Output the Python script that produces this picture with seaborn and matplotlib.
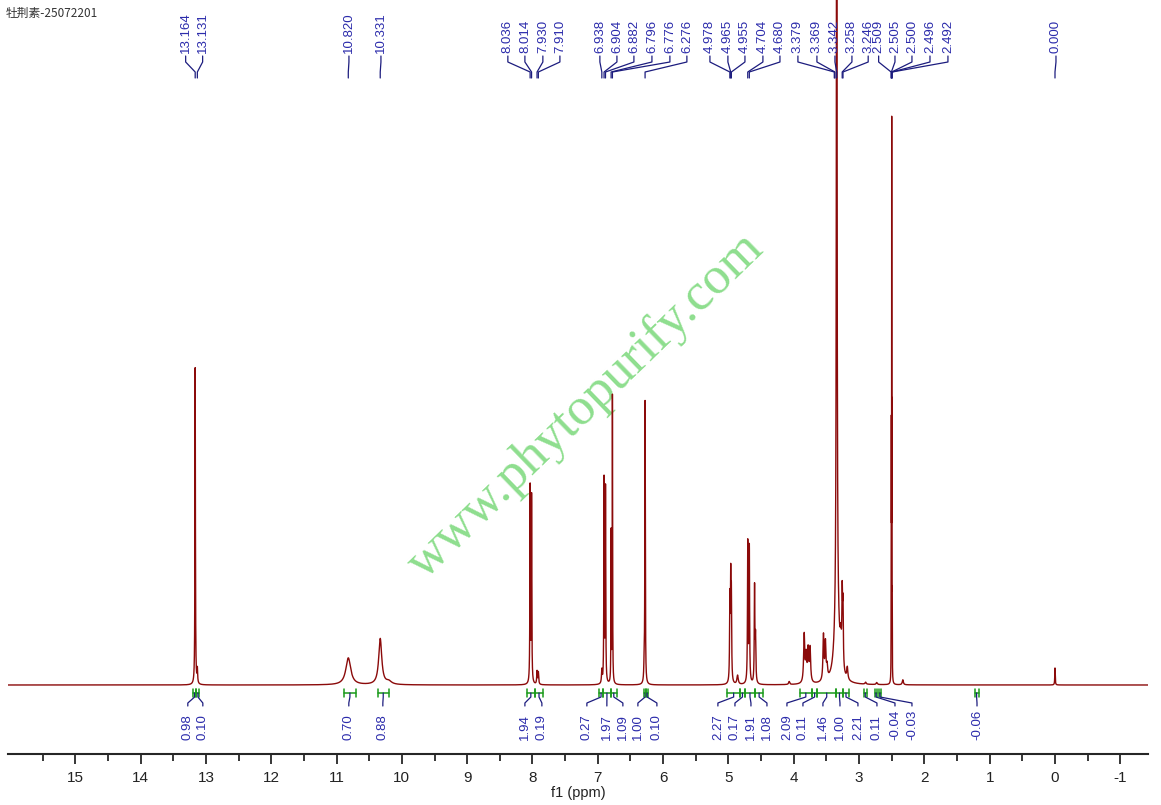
import numpy as np
import matplotlib
matplotlib.use("Agg")
import matplotlib.pyplot as plt
import seaborn as sns

sns.set_theme(style="ticks")
plt.rcParams['font.family'] = ['Liberation Sans', 'DejaVu Sans']
plt.rcParams['axes.unicode_minus'] = False

sample_name = "牡荆素-25072201"
watermark = "www.phytopurify.com"

# peaks: position (ppm), height above baseline, half width (ppm)
peak_ppm = [13.164, 13.131, 10.820, 10.331, 10.20,
            8.036, 8.014, 7.930, 7.910,
            6.938, 6.904, 6.882, 6.796, 6.776, 6.290, 6.276,
            4.978, 4.965, 4.955, 4.860, 4.704, 4.680, 4.600, 4.585, 4.07,
            3.840, 3.810, 3.780, 3.750, 3.545, 3.515, 3.490,
            3.342, 3.340, 3.280, 3.258, 3.246, 3.180, 2.900, 2.730,
            2.509, 2.505, 2.500, 2.496, 2.492, 2.330, 0.000]
peak_height = [317, 14, 27, 46, 3,
               196, 186, 13, 12,
               13, 203, 194, 150, 287, 16, 282,
               80, 95, 80, 9, 140, 135, 95, 45, 3,
               48, 26, 32, 34, 45, 36, 12,
               950, 70, 25, 68, 60, 12, 2, 2,
               60, 225, 530, 225, 60, 5, 17]
peak_width = [0.004, 0.005, 0.045, 0.028, 0.05,
              0.004, 0.004, 0.006, 0.006,
              0.006, 0.004, 0.004, 0.003, 0.003, 0.006, 0.004,
              0.005, 0.005, 0.005, 0.012, 0.005, 0.005, 0.005, 0.006, 0.01,
              0.010, 0.010, 0.010, 0.010, 0.009, 0.009, 0.010,
              0.006, 0.04, 0.012, 0.006, 0.006, 0.01, 0.01, 0.01,
              0.0013, 0.0013, 0.0013, 0.0013, 0.0013, 0.01, 0.004]

# picked peak labels
pick_ppm = [13.164, 13.131, 10.820, 10.331, 8.036, 8.014, 7.930, 7.910,
            6.938, 6.904, 6.882, 6.796, 6.776, 6.276,
            4.978, 4.965, 4.955, 4.704, 4.680, 3.379, 3.369, 3.342, 3.258, 3.246,
            2.509, 2.505, 2.500, 2.496, 2.492, 0.000]

# integrals: start, end (ppm) and value
int_start = [13.20, 13.145, 10.89, 10.37, 8.09, 7.96, 6.98, 6.92, 6.80, 6.29, 6.26,
             5.02, 4.82, 4.75, 4.59, 3.91, 3.72, 3.64, 3.35, 3.25, 2.93, 2.76, 2.70, 1.23]
int_end = [13.145, 13.10, 10.70, 10.20, 7.96, 7.84, 6.92, 6.80, 6.71, 6.26, 6.23,
           4.82, 4.75, 4.59, 4.47, 3.72, 3.64, 3.35, 3.25, 3.15, 2.88, 2.72, 2.66, 1.17]
int_value = ["0.98", "0.10", "0.70", "0.88", "1.94", "0.19", "0.27", "1.97", "1.09", "1.00", "0.10",
             "2.27", "0.17", "1.91", "1.08", "2.09", "0.11", "1.46", "1.00", "2.21", "0.11", "-0.04", "-0.03",
             "-0.06"]

# layout: where the labels sit after spreading (ppm)
pick_slot = [13.31, 13.05, 10.81, 10.32, 8.377, 8.116, 7.841, 7.58,
             6.968, 6.707, 6.447, 6.171, 5.896, 5.636,
             5.283, 5.008, 4.747, 4.472, 4.211, 3.936, 3.645, 3.369, 3.109, 2.86,
             2.70, 2.450, 2.190, 1.914, 1.639, -0.015]
int_slot = [13.277, 13.047, 10.812, 10.291, 8.116, 7.856, 7.167, 6.861, 6.616, 6.386, 6.095,
            5.161, 4.900, 4.655, 4.410, 4.104, 3.859, 3.553, 3.292, 3.017, 2.726, 2.450, 2.190, 1.194]

# build spectrum from the peak list
ppm = np.linspace(16.2, -1.6, 80000)
ppm = np.unique(np.concatenate([ppm, peak_ppm]))[::-1]
spec = np.zeros_like(ppm)
for p, h, w in zip(peak_ppm, peak_height, peak_width):
    spec += h / (1 + ((ppm - p) / w) ** 2)

fig = plt.figure(figsize=(11.61, 8.05), dpi=100)
ax = fig.add_axes([8 / 1161, 51 / 805, 1140 / 1161, 754 / 805])

sns.lineplot(x=ppm, y=spec, ax=ax, color="#8b0a0a", lw=1.0, estimator=None, sort=False)

# axis styling
ax.set_xticks(np.arange(-1, 16, 1))
ax.set_xticks(np.arange(-1, 16, 0.5), minor=True)
ax.set_xlim(16.03, -1.424)
ax.set_ylim(-69, 685)
ax.tick_params(axis="x", which="major", direction="out", length=7, width=1.3,
               labelsize=11, labelcolor="#222222", pad=5)
ax.tick_params(axis="x", which="minor", direction="out", length=5, width=1.3)
ax.set_yticks([])
for side in ["left", "top", "right"]:
    ax.spines[side].set_visible(False)
ax.spines["bottom"].set_linewidth(1.5)
ax.set_xlabel("f1 (ppm)", fontsize=10.5, color="#222222", labelpad=1)
ax.set_ylabel("")

# watermark
ax.text(0.507, 0.462, watermark, transform=ax.transAxes, rotation=44, fontsize=38,
        family=['Liberation Serif', 'DejaVu Serif'], color="#7ad87a", alpha=0.85,
        ha="center", va="center", zorder=0)

# peak picking labels
lab_col = "#2b2bab"
con_col = "#1c1c7e"
for p, s in zip(pick_ppm, pick_slot):
    ax.plot([s, s, p, p], [629, 623, 613, 607], color=con_col, lw=0.9, clip_on=False)
    ax.text(s, 632, f"{p:.3f}", rotation=90, ha="center", va="bottom",
            fontsize=9.5, color=lab_col)

# integrals
int_col = "#1a9a1a"
for a, b, v, s in zip(int_start, int_end, int_value, int_slot):
    ax.plot([a, b], [-8, -8], color=int_col, lw=1.1)
    ax.plot([a, a], [-4, -12], color=int_col, lw=1.1)
    ax.plot([b, b], [-4, -12], color=int_col, lw=1.1)
    c = (a + b) / 2
    ax.plot([c, c, s, s], [-8, -12, -18, -21], color=con_col, lw=0.9)
    ax.text(s, -55, v, rotation=90, ha="center", va="bottom", fontsize=9.5, color=lab_col)

fig.text(6 / 1161, 1 - 13 / 805, sample_name, fontsize=8.5, color="#333333",
         family=['Noto Sans CJK SC', 'DejaVu Sans'], va="center", ha="left")

plt.savefig("out.png", dpi=100)
